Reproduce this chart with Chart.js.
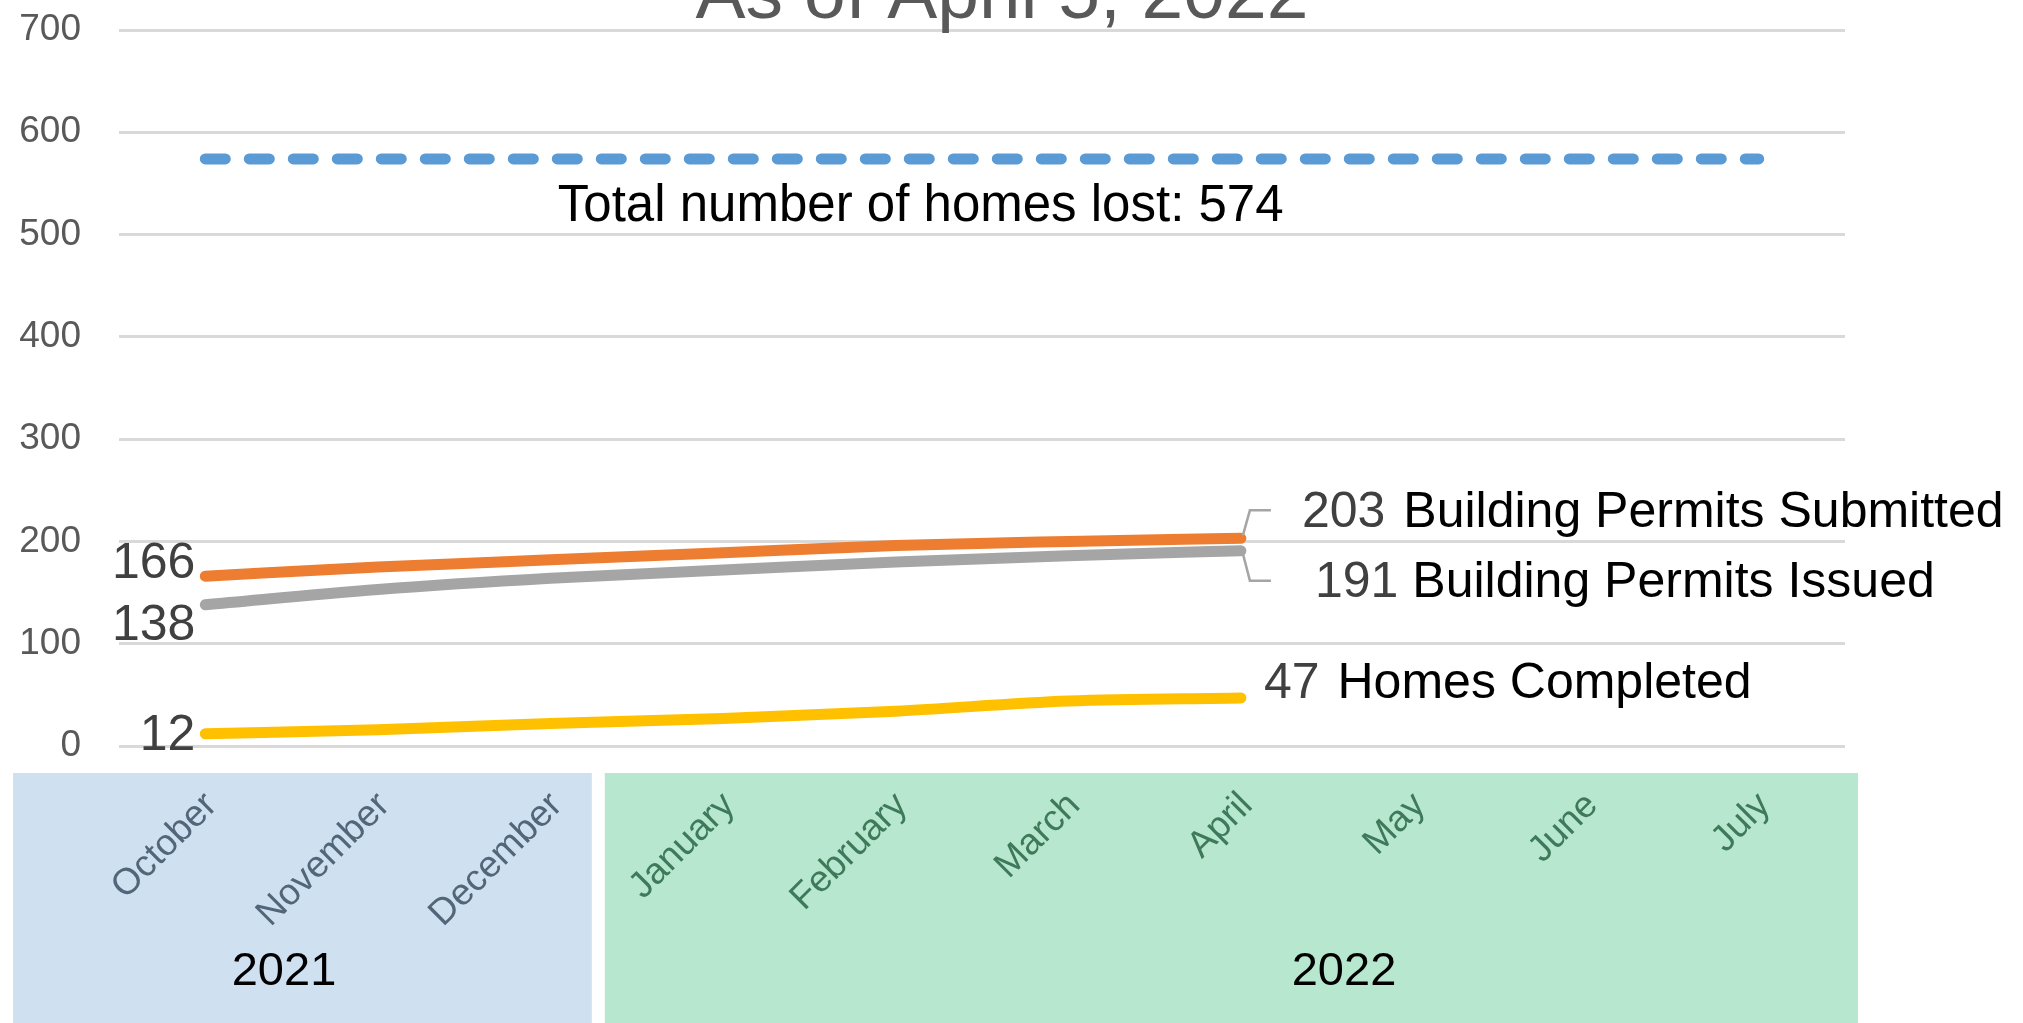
<!DOCTYPE html>
<html>
<head>
<meta charset="utf-8">
<script src="https://cdn.jsdelivr.net/npm/chart.js@4"></script>
<style>
  html, body { margin: 0; padding: 0; background: #ffffff; }
  #wrap { width: 2023px; height: 1023px; }
</style>
</head>
<body>
<div id="wrap"><canvas id="c" width="2023" height="1023"></canvas></div>
<script>
// ---- data ----
const months = ['October', 'November', 'December', 'January', 'February', 'March', 'April', 'May', 'June', 'July'];
const years = ['2021', '2022'];
const monthsPerYear = [3, 7];
const permitsSubmitted = [166, 175, 182, 189, 196, 200, 203];
const permitsIssued = [138, 153, 164, 172, 180, 186, 191];
const homesCompleted = [12, 16, 22, 27, 34, 44, 47];
const homesLost = [574, 574, 574, 574, 574, 574, 574, 574, 574, 574];
const seriesNames = ['Building Permits Submitted', 'Building Permits Issued', 'Homes Completed'];
const homesLostLabel = 'Total number of homes lost: 574';
const titleText = 'As of April 5, 2022';
const yMin = 0, yMax = 700, yStep = 100;

// ---- styles ----
const FONT = "'Liberation Sans', Arial, sans-serif";
const colors = { submitted: '#ED7D31', issued: '#A5A5A5', completed: '#FFC000', lost: '#5B9BD5' };
const yearBoxColors = ['#CFE0F1', '#B7E7CF'];
const monthColors = ['#52667A', '#3E7A5A'];

// label placement relative to points (style only)
const firstLabelOffsets = [ { dx: -10, dy: -12 }, { dx: -10, dy: 21 }, { dx: -10, dy: 2 } ];
const endLabelOffsets = [ { dx: 61, dy: -25, gap: 18, leader: -28 }, { dx: 74, dy: 33, gap: 14, leader: 30 }, { dx: 23, dy: -14, gap: 18, leader: 0 } ];

const yearBoxPlugin = {
  id: 'yearBoxes',
  beforeDraw(chart) {
    const ctx = chart.ctx;
    const xs = chart.scales.x;
    const catW = (xs.right - xs.left) / months.length;
    const boundary = xs.getPixelForValue(monthsPerYear[0]) - catW / 2;
    const top = xs.top + 27;
    const bottom = chart.height;
    const boxes = [
      { l: xs.left - 106, r: boundary - 45 },
      { l: boundary - 32, r: xs.right + 13 }
    ];
    ctx.save();
    boxes.forEach((b, i) => {
      ctx.fillStyle = yearBoxColors[i];
      ctx.fillRect(b.l, top, b.r - b.l, bottom - top);
    });
    ctx.fillStyle = '#000000';
    ctx.font = '47px ' + FONT;
    ctx.textAlign = 'center';
    ctx.textBaseline = 'middle';
    const yearX = [xs.left + 165, xs.left + 1225];
    years.forEach((y, i) => ctx.fillText(y, yearX[i], xs.top + 226));
    ctx.restore();
  },
  afterDraw(chart) {
    const ctx = chart.ctx;
    ctx.save();
    ctx.fillStyle = '#595959';
    ctx.font = '75px ' + FONT;
    ctx.textAlign = 'center';
    ctx.textBaseline = 'alphabetic';
    ctx.fillText(titleText, 1002, 18);
    ctx.restore();
  }
};

const labelPlugin = {
  id: 'seriesLabels',
  afterDatasetsDraw(chart) {
    const ctx = chart.ctx;
    ctx.save();
    ctx.font = '50px ' + FONT;
    ctx.textBaseline = 'middle';
    for (let s = 0; s < 3; s++) {
      const meta = chart.getDatasetMeta(s + 1);
      const ds = chart.data.datasets[s + 1];
      const pts = meta.data;
      const first = pts[0];
      const last = pts[pts.length - 1];
      const vFirst = ds.data[0];
      const vLast = ds.data[ds.data.length - 1];
      ctx.fillStyle = '#404040';
      ctx.textAlign = 'right';
      ctx.fillText(String(vFirst), first.x + firstLabelOffsets[s].dx, first.y + firstLabelOffsets[s].dy);
      const o = endLabelOffsets[s];
      const nx = last.x + o.dx;
      const ny = last.y + o.dy;
      ctx.textAlign = 'left';
      ctx.fillStyle = '#404040';
      const numStr = String(vLast);
      ctx.fillText(numStr, nx, ny);
      const w = ctx.measureText(numStr).width;
      ctx.fillStyle = '#000000';
      ctx.fillText(seriesNames[s], nx + w + o.gap, ny);
      if (o.leader !== 0) {
        const sgn = Math.sign(o.leader);
        ctx.strokeStyle = '#A5A5A5';
        ctx.lineWidth = 2.5;
        ctx.beginPath();
        ctx.moveTo(last.x + 2, last.y + sgn * 3);
        ctx.lineTo(last.x + 9, last.y + o.leader);
        ctx.lineTo(last.x + 30, last.y + o.leader);
        ctx.stroke();
      }
    }
    const lostMeta = chart.getDatasetMeta(0);
    const lp = lostMeta.data[4];
    ctx.fillStyle = '#000000';
    ctx.font = '51px ' + FONT;
    ctx.textAlign = 'center';
    ctx.fillText(homesLostLabel, lp.x + 25, lp.y + 48);
    ctx.restore();
  }
};

const lineBase = {
  pointRadius: 0,
  pointHoverRadius: 0,
  borderWidth: 11,
  borderCapStyle: 'round',
  borderJoinStyle: 'round',
  fill: false,
  cubicInterpolationMode: 'monotone'
};

new Chart(document.getElementById('c'), {
  type: 'line',
  data: {
    labels: months,
    datasets: [
      Object.assign({}, lineBase, { label: 'Total number of homes lost', data: homesLost, borderColor: colors.lost, borderDash: [20, 24] }),
      Object.assign({}, lineBase, { label: seriesNames[0], data: permitsSubmitted, borderColor: colors.submitted }),
      Object.assign({}, lineBase, { label: seriesNames[1], data: permitsIssued, borderColor: colors.issued }),
      Object.assign({}, lineBase, { label: seriesNames[2], data: homesCompleted, borderColor: colors.completed })
    ]
  },
  options: {
    responsive: false,
    animation: false,
    events: [],
    layout: { padding: { top: 30, right: 178, left: 0, bottom: 0 } },
    plugins: {
      legend: { display: false },
      tooltip: { enabled: false },
      title: { display: false }
    },
    scales: {
      x: {
        type: 'category',
        offset: true,
        grid: { display: false, drawTicks: false },
        border: { display: false },
        ticks: {
          autoSkip: false,
          minRotation: 45,
          maxRotation: 45,
          padding: 38,
          labelOffset: 6,
          font: { family: FONT, size: 37 },
          color: (c) => c.index < monthsPerYear[0] ? monthColors[0] : monthColors[1]
        },
        afterFit: (scale) => {
          scale.height = 277;
          scale.paddingTop = 0; scale.paddingBottom = 0;
          scale.paddingLeft = 0; scale.paddingRight = 0;
        }
      },
      y: {
        min: yMin,
        max: yMax,
        grid: { color: '#D9D9D9', lineWidth: 3, drawTicks: false },
        border: { display: false },
        ticks: {
          stepSize: yStep,
          padding: 38,
          font: { family: FONT, size: 37 },
          color: '#595959'
        },
        afterFit: (scale) => {
          scale.width = 119;
          scale.paddingTop = 0; scale.paddingBottom = 0;
        }
      }
    }
  },
  plugins: [yearBoxPlugin, labelPlugin]
});
</script>
</body>
</html>
